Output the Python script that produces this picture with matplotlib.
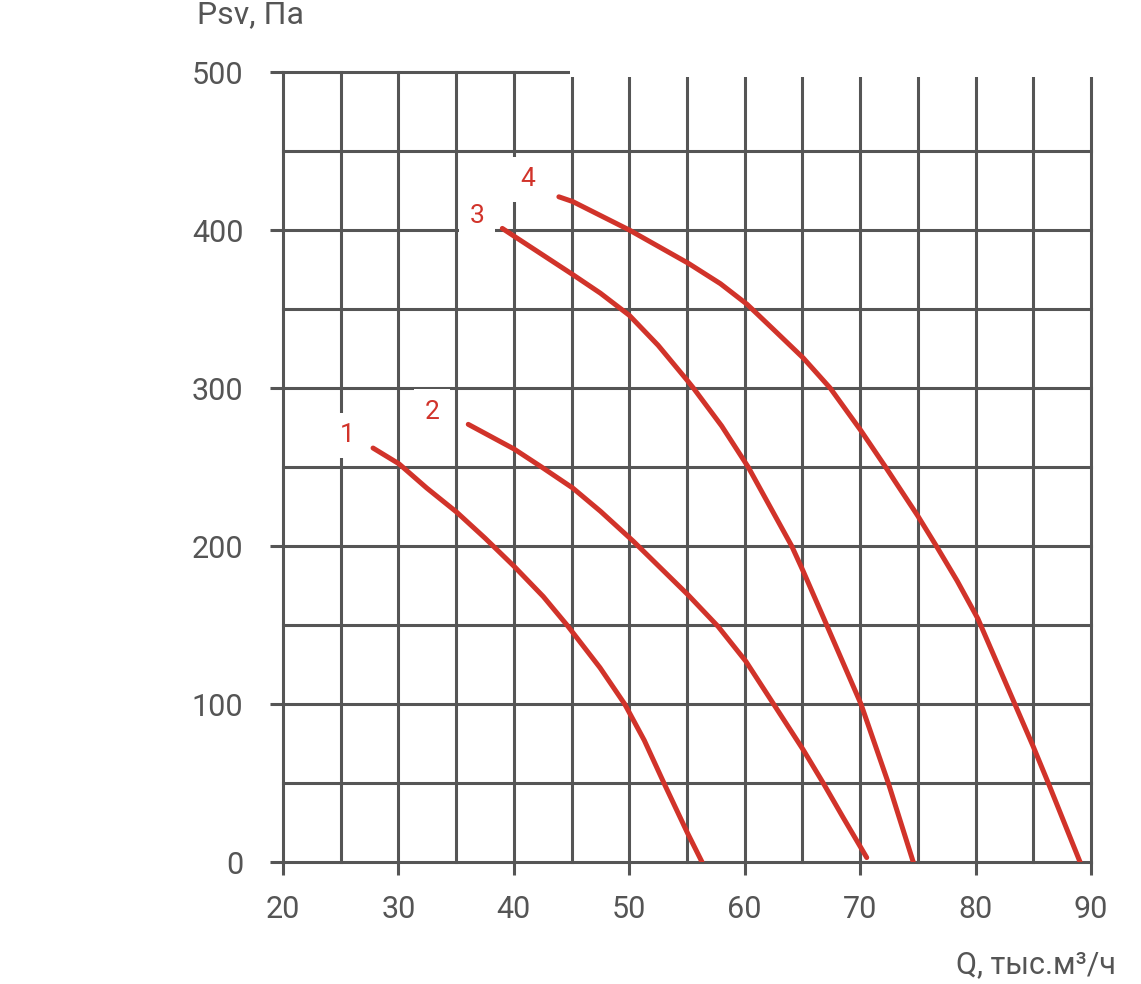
import matplotlib
matplotlib.use("Agg")
import matplotlib.pyplot as plt
from matplotlib.patches import Rectangle

# ---- data ----
c1_x = [27.8, 30.05, 32.45, 35.05, 37.5, 40.04, 42.55, 44.6, 47.46, 49.6, 51.3, 53.0, 55.0, 56.3]
c1_y = [262, 252, 236.7, 221.4, 205, 187, 168, 150, 123, 100, 77, 50, 19, 0]

c2_x = [36.05, 40.04, 42.4, 45.1, 47.5, 50.35, 55.1, 57.7, 60.1, 62.5, 65.07, 66.8, 68.54, 70.57]
c2_y = [277, 261.3, 250, 236.7, 222, 203, 169, 149, 127, 100, 71, 50, 28, 2.8]

c3_x = [39.0, 40.04, 45.1, 47.5, 50.0, 52.5, 55.0, 55.55, 58.0, 60.3, 64.07, 65.07, 67.1, 70.07, 72.44, 74.6]
c3_y = [401, 396, 371.8, 360, 346, 327, 305, 300, 276, 250, 200, 184, 150, 100, 50, 0]

c4_x = [43.9, 45.1, 50.0, 55.1, 57.9, 60.2, 62.5, 65.07, 67.4, 70.07, 72.2, 75.0, 76.6, 78.4, 80.2, 83.4, 85.0, 86.3, 89.05]
c4_y = [421, 418, 400, 379, 366, 353, 337, 319, 300, 273, 250, 219, 200, 178, 154, 100, 73, 50, 0]

curve_labels = ["1", "2", "3", "4"]
label_x = [25.6, 32.9, 36.8, 41.2]
label_y = [270, 285, 409, 432]

x_major = [20, 30, 40, 50, 60, 70, 80, 90]
x_minor = [25, 35, 45, 55, 65, 75, 85]
y_major = [0, 100, 200, 300, 400, 500]
y_minor = [50, 150, 250, 350, 450]

# ---- style ----
plt.rcParams["font.family"] = ["Roboto", "DejaVu Sans"]

GRID = "#555555"
RED = "#d1332a"
TXT = "#555555"

fig = plt.figure(figsize=(11.41, 9.84), dpi=100, facecolor="white")
ax = fig.add_axes([283 / 1141, 1 - 862 / 984, (1091 - 283) / 1141, (862 - 72) / 984])
ax.set_facecolor("white")
ax.set_xlim(20, 90)
ax.set_ylim(0, 500)

for s in ax.spines.values():
    s.set_visible(False)

ax.set_xticks(x_major)
ax.set_xticks(x_minor, minor=True)
ax.set_yticks(y_major)
ax.set_yticks(y_minor, minor=True)
ax.tick_params(which="major", length=9.4, width=2.2, color=GRID, direction="out",
               labelsize=22, labelcolor=TXT)
ax.tick_params(axis="x", which="major", pad=14)
ax.tick_params(axis="y", which="major", pad=19)
ax.tick_params(which="minor", length=0)

for xv in x_major + x_minor:
    ax.axvline(xv, color=GRID, lw=2.2, zorder=1, clip_on=False)
for yv in y_major + y_minor:
    ax.axhline(yv, color=GRID, lw=2.2, zorder=1, clip_on=False)

for xs, ys in [(c1_x, c1_y), (c2_x, c2_y), (c3_x, c3_y), (c4_x, c4_y)]:
    ax.plot(xs, ys, color=RED, lw=3.6, solid_capstyle="round", solid_joinstyle="round", zorder=3)

for t, lx, ly in zip(curve_labels, label_x, label_y):
    ax.text(lx, ly, t, color=RED, fontsize=19, ha="center", va="center", zorder=4,
            bbox=dict(boxstyle="square,pad=0.4", fc="white", ec="none"))

# white patch at the top right (as in the reference)
fig.patches.append(Rectangle((570 / 1141, 1 - 77 / 984), 1 - 570 / 1141, 77 / 984,
                             transform=fig.transFigure, facecolor="white",
                             edgecolor="none", zorder=10))

fig.text(197 / 1141, 1 - 23 / 984, "Psv, Па", fontsize=23, color=TXT, ha="left", va="baseline")
fig.text(1116 / 1141, 1 - 973 / 984, "Q, тыс.м³/ч", fontsize=22, color=TXT, ha="right", va="baseline")

fig.savefig("out.png", dpi=100, facecolor="white")
